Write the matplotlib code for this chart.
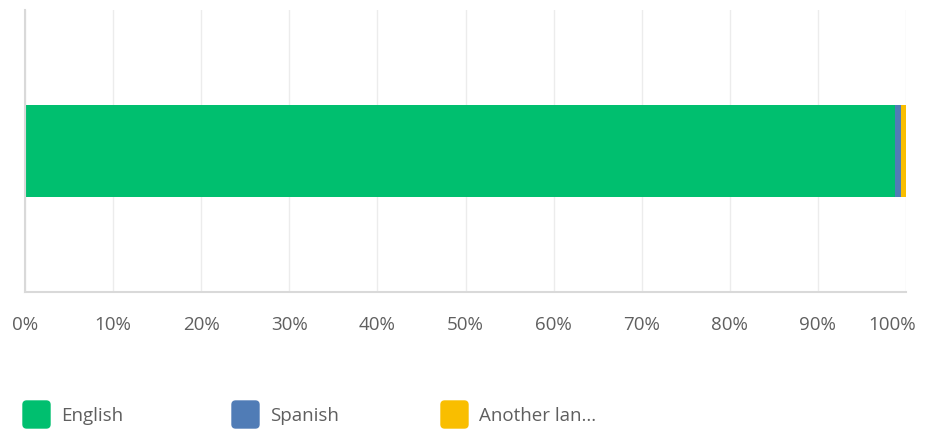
import matplotlib.pyplot as plt
import matplotlib.transforms as mtransforms
from matplotlib.patches import FancyBboxPatch

categories = ['English', 'Spanish', 'Another lan...']
values = [98.8, 0.6, 0.6]
colors = ['#00bf6f', '#507cb6', '#f9be00']
ticks = list(range(0, 101, 10))
tick_labels = [f'{t}%' for t in ticks]

plt.rcParams['font.family'] = ['Open Sans', 'DejaVu Sans']

fig = plt.figure(figsize=(9.25, 4.30), dpi=100)
ax = fig.add_axes([25 / 925, 1 - 292 / 430, 881 / 925, 282 / 430])

left = 0
for name, v, c in zip(categories, values, colors):
    ax.barh(0, v, left=left, height=0.323, color=c, label=name)
    left += v

ax.set_xlim(0, 100)
ax.set_ylim(-0.5, 0.5)
ax.set_xticks(ticks)
ax.set_xticklabels(tick_labels, fontsize=13.5, color='#5f5f5f')
ax.set_yticks([])
ax.tick_params(axis='x', length=0, pad=17)
ax.grid(axis='x', color='#ececec', linewidth=1)
ax.set_axisbelow(True)
for s in ['top', 'right']:
    ax.spines[s].set_visible(False)
ax.spines['left'].set_color('#d9d9d9')
ax.spines['left'].set_linewidth(1.5)
ax.spines['bottom'].set_color('#d9d9d9')
ax.spines['bottom'].set_linewidth(1.5)

# keep the last label inside the figure
last = ax.get_xticklabels()[-1]
last.set_transform(last.get_transform() +
                   mtransforms.ScaledTranslation(-14 / 100, 0, fig.dpi_scale_trans))

# legend with rounded squares
legend_x = [23, 232, 441]
for x, name, c in zip(legend_x, categories, colors):
    box = FancyBboxPatch((x / 925, 1 - 428 / 430), 27 / 925, 27 / 430,
                         boxstyle='round,pad=0,rounding_size=0.004',
                         transform=fig.transFigure, color=c,
                         mutation_aspect=925 / 430)
    fig.patches.append(box)
    fig.text((x + 38) / 925, 1 - 416 / 430, name, fontsize=13.5,
             color='#5f5f5f', va='center', ha='left')

fig.savefig('out.png', dpi=100)
